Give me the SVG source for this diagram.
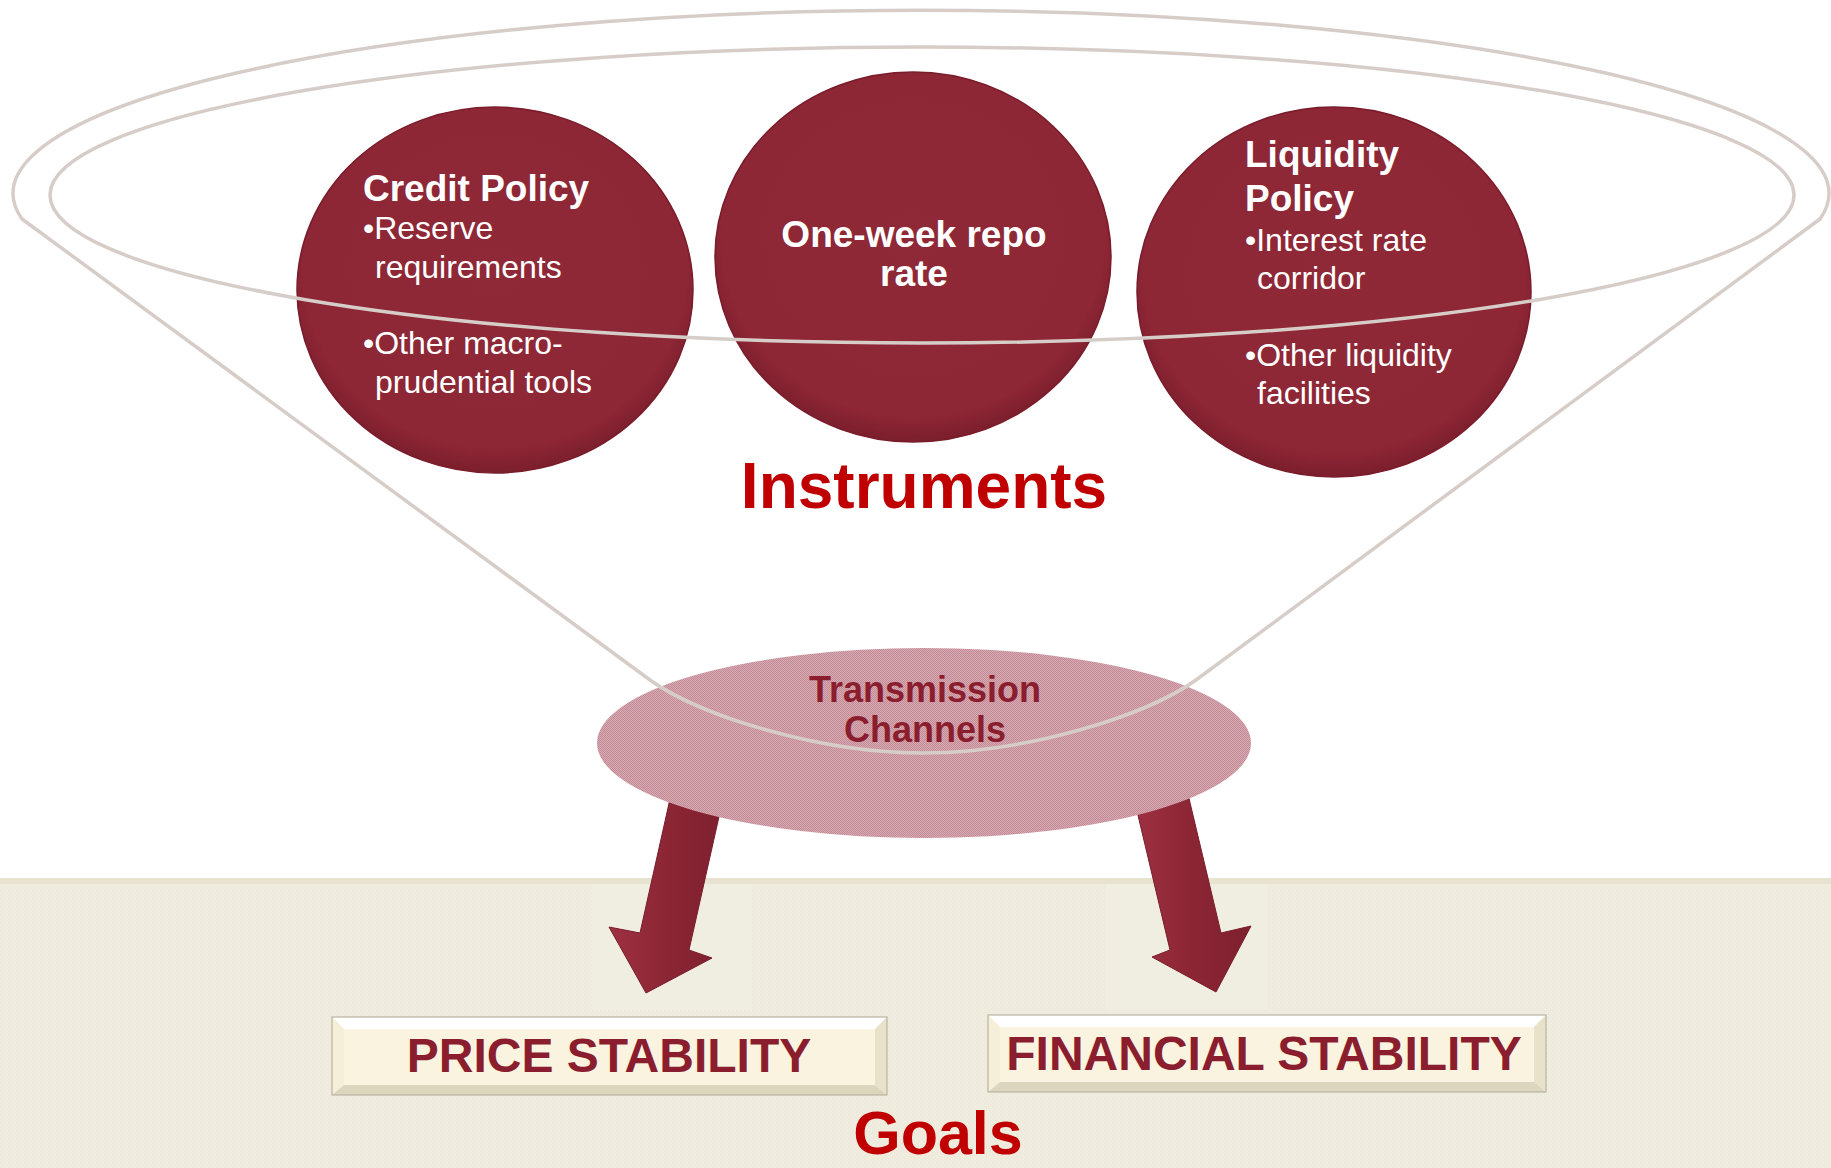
<svg xmlns="http://www.w3.org/2000/svg" width="1831" height="1168" viewBox="0 0 1831 1168">
  <defs>
    <style>
      .disc { fill: url(#discFill); stroke: #7a1c2b; stroke-width: 1.5; }
      .head { font-family: "Liberation Sans", Arial, sans-serif; font-weight: bold; font-size: 37px; fill: #ffffff; }
      .item { font-family: "Liberation Sans", Arial, sans-serif; font-size: 32px; fill: #ffffff; }
      .title { font-family: "Liberation Sans", Arial, sans-serif; font-weight: bold; font-size: 64px; fill: #c00000; text-anchor: middle; }
      .chan { font-family: "Liberation Sans", Arial, sans-serif; font-weight: bold; font-size: 36px; fill: #8b1e2e; text-anchor: middle; }
      .goal { font-family: "Liberation Sans", Arial, sans-serif; font-weight: bold; font-size: 48px; fill: #8b1e2e; text-anchor: middle; }
      .funnel { fill: none; stroke: #d6cdc8; stroke-width: 3.5; stroke-linejoin: round; }
      .arrow { fill: url(#arrowFill); stroke: #7a1c2b; stroke-width: 1; }
      .face { fill: #faf3df; }
      .bev-top { fill: #ffffff; }
      .bev-left { fill: #f5efd9; }
      .bev-right { fill: #e9e2ca; }
      .bev-bot { fill: #ddd6bf; }
      .frame { fill: none; stroke: #b9b4a3; stroke-width: 1.2; }
    </style>
    <radialGradient id="discFill" cx="50%" cy="45%" r="55%">
      <stop offset="0" stop-color="#8f2837"/>
      <stop offset="0.88" stop-color="#8d2635"/>
      <stop offset="1" stop-color="#7b1e2c"/>
    </radialGradient>
    <linearGradient id="arrowFill" x1="0" y1="0" x2="1" y2="0">
      <stop offset="0" stop-color="#9e3142"/>
      <stop offset="0.45" stop-color="#8d2635"/>
      <stop offset="1" stop-color="#7e202e"/>
    </linearGradient>
    <pattern id="stipple" width="2" height="2" patternUnits="userSpaceOnUse">
      <rect width="2" height="2" fill="#d6aab2"/>
      <rect width="1" height="1" fill="#c48a95"/>
      <rect x="1" y="1" width="1" height="1" fill="#c48a95"/>
    </pattern>
    <pattern id="canvas" width="4" height="4" patternUnits="userSpaceOnUse">
      <rect width="4" height="4" fill="#eeeadc"/>
      <rect x="1" y="1" width="1" height="1" fill="#f5f2e8"/>
      <rect x="3" y="3" width="1" height="1" fill="#f5f2e8"/>
    </pattern>
  </defs>

  <!-- page -->
  <rect width="1831" height="1168" fill="#ffffff"/>
  <rect x="0" y="878" width="1831" height="290" fill="url(#canvas)"/>
  <rect x="0" y="878" width="1831" height="6" fill="#e8e3d1"/>
  <rect x="592" y="884" width="160" height="126" fill="#f0ede1"/>
  <rect x="1106" y="884" width="162" height="126" fill="#f0ede1"/>

  <!-- arrows from the transmission channels down to the goals -->
  <g id="connectors">
    <polygon class="arrow" points="672,790 725,790 689,950 712,958 646,993 609,927 640,933"/>
    <polygon class="arrow" points="1132,790 1187,790 1221,933 1251,926 1216,992 1152,957 1170,950"/>
  </g>

  <!-- transmission channels disc -->
  <g id="transmission">
    <ellipse cx="924" cy="743" rx="327" ry="95" fill="url(#stipple)"/>
  </g>

  <!-- instrument discs -->
  <g id="credit-policy">
    <ellipse class="disc" cx="495" cy="290" rx="198" ry="183"/>
  </g>
  <g id="repo-rate">
    <ellipse class="disc" cx="913" cy="257" rx="198" ry="185"/>
  </g>
  <g id="liquidity-policy">
    <ellipse class="disc" cx="1334" cy="292" rx="197" ry="185"/>
  </g>

  <!-- funnel outline: rim ellipse and cone down into the transmission disc -->
  <g id="funnel">
    <ellipse class="funnel" cx="922" cy="195" rx="872" ry="148"/>
    <path class="funnel" d="M650,680 L22,219 A908,183 0 1 1 1820,219 L1196,680 C1146,716 1026,753 923,753 C820,753 700,716 650,680 Z"/>
  </g>

  <!-- labels -->
  <g id="credit-policy-text">
    <text class="head" x="363" y="201">Credit Policy</text>
    <text class="item" x="363" y="239">•Reserve</text>
    <text class="item" x="375" y="278">requirements</text>
    <text class="item" x="363" y="354">•Other macro-</text>
    <text class="item" x="375" y="393">prudential tools</text>
  </g>
  <g id="repo-rate-text">
    <text class="head" x="914" y="247" text-anchor="middle">One-week repo</text>
    <text class="head" x="914" y="286" text-anchor="middle">rate</text>
  </g>
  <g id="liquidity-policy-text">
    <text class="head" x="1245" y="167">Liquidity</text>
    <text class="head" x="1245" y="211">Policy</text>
    <text class="item" x="1245" y="251">•Interest rate</text>
    <text class="item" x="1257" y="289">corridor</text>
    <text class="item" x="1245" y="366">•Other liquidity</text>
    <text class="item" x="1257" y="404">facilities</text>
  </g>
  <g id="instruments-label">
    <text class="title" x="924" y="508">Instruments</text>
  </g>
  <g id="transmission-text">
    <text class="chan" x="925" y="702">Transmission</text>
    <text class="chan" x="925" y="742">Channels</text>
  </g>

  <!-- goal boxes -->
  <g id="price-stability">
    <rect class="face" x="332" y="1017" width="555" height="78"/>
    <polygon class="bev-top" points="332,1017 887,1017 875,1029 344,1029"/>
    <polygon class="bev-left" points="332,1017 344,1029 344,1085 332,1095"/>
    <polygon class="bev-right" points="887,1017 887,1095 875,1085 875,1029"/>
    <polygon class="bev-bot" points="332,1095 887,1095 875,1085 344,1085"/>
    <rect class="frame" x="332" y="1017" width="555" height="78"/>
    <text class="goal" x="609" y="1072">PRICE STABILITY</text>
  </g>
  <g id="financial-stability">
    <rect class="face" x="988" y="1015" width="558" height="77"/>
    <polygon class="bev-top" points="988,1015 1546,1015 1534,1027 1000,1027"/>
    <polygon class="bev-left" points="988,1015 1000,1027 1000,1082 988,1092"/>
    <polygon class="bev-right" points="1546,1015 1546,1092 1534,1082 1534,1027"/>
    <polygon class="bev-bot" points="988,1092 1546,1092 1534,1082 1000,1082"/>
    <rect class="frame" x="988" y="1015" width="558" height="77"/>
    <text class="goal" x="1264" y="1070">FINANCIAL STABILITY</text>
  </g>
  <g id="goals-label">
    <text class="title" x="938" y="1154" style="font-size:61px">Goals</text>
  </g>
</svg>
